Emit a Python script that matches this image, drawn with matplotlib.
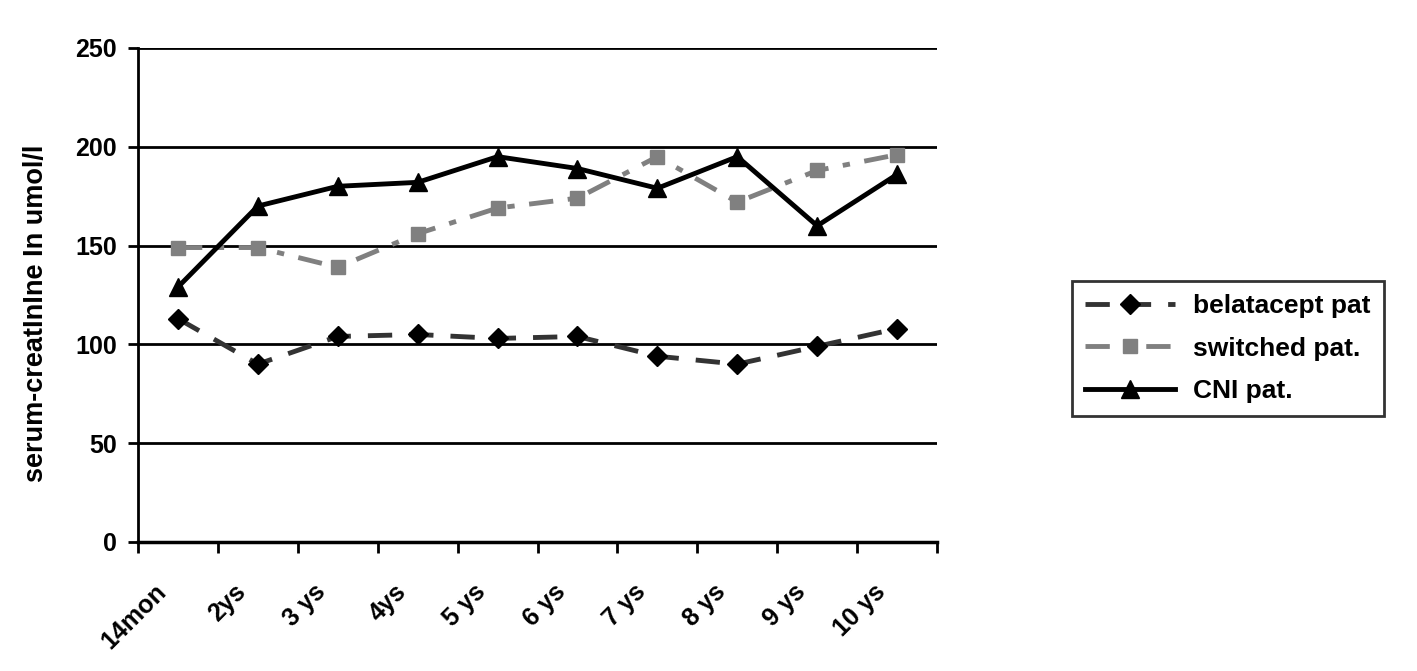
import matplotlib
matplotlib.use("Agg")
import matplotlib.pyplot as plt
import matplotlib.transforms as mtransforms
import numpy as np

plt.rcParams['font.family'] = ['Liberation Sans', 'DejaVu Sans']
plt.rcParams['font.weight'] = 'bold'

labels = ['14mon', '2ys', '3 ys', '4ys', '5 ys', '6 ys', '7 ys', '8 ys', '9 ys', '10 ys']
belatacept = [113, 90, 104, 105, 103, 104, 94, 90, 99, 108]
switched = [149, 149, 139, 156, 169, 174, 195, 172, 188, 196]
cni = [129, 170, 180, 182, 195, 189, 179, 195, 160, 186]

fig = plt.figure(figsize=(14.17, 6.71), dpi=100)
ax = fig.add_axes([0.0974, 0.1923, 0.5639, 0.7362])

x = np.arange(len(labels)) + 0.5

ax.plot(x, belatacept, color='#333333', lw=3.5, dashes=(5, 3.5),
        marker='D', ms=10, mfc='black', mec='black', label='belatacept pat')
ax.plot(x, switched, color='#808080', lw=3.5, dashes=(5, 3, 1.5, 3),
        marker='s', ms=10, mfc='#808080', mec='#808080', label='switched pat.')
ax.plot(x, cni, color='black', lw=3.5,
        marker='^', ms=13, mfc='black', mec='black', label='CNI pat.')

ax.set_xlim(0, 10)
ax.set_ylim(0, 250)
ax.set_yticks(range(0, 251, 50))
ax.yaxis.grid(True, color='black', lw=2)
ax.set_axisbelow(True)

ax.set_xticks(range(0, 11))
ax.set_xticklabels([])
ax.set_xticks(x, minor=True)
ax.set_xticklabels(labels, minor=True, rotation=45, ha='right',
                   rotation_mode='anchor', fontsize=18, fontweight='bold')
ax.tick_params(axis='x', which='minor', length=0, pad=27)
ax.tick_params(axis='x', which='major', length=8, width=2, direction='out')
ax.tick_params(axis='y', length=7, width=2, labelsize=18, pad=8)

# shift rotated labels left so they end just before the category centre
shift = mtransforms.ScaledTranslation(-0.24, 0, fig.dpi_scale_trans)
for lab in ax.get_xticklabels(minor=True):
    lab.set_transform(lab.get_transform() + shift)

for s in ['top', 'right']:
    ax.spines[s].set_visible(False)
ax.spines['left'].set_linewidth(2)
ax.spines['bottom'].set_linewidth(2.5)

ax.set_ylabel('serum-creatInIne In umol/l', fontsize=19.5, fontweight='bold')
ax.yaxis.set_label_coords(-0.112, 0.4636)

leg = fig.legend(loc='center left', bbox_to_anchor=(0.7565, 0.4806), fontsize=19,
                 frameon=True, fancybox=False, edgecolor='black', handlelength=3.4,
                 borderpad=0.5, labelspacing=0.7, handletextpad=0.7, borderaxespad=0)
leg.get_frame().set_linewidth(2)

fig.savefig('out.png', dpi=100)
